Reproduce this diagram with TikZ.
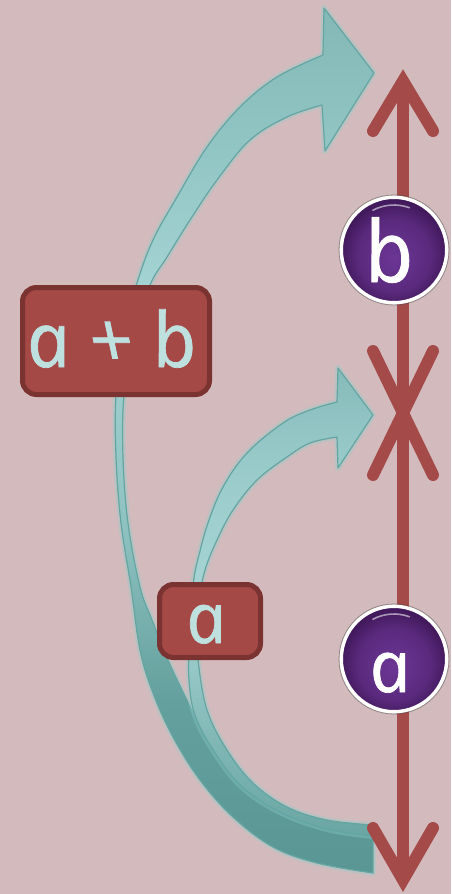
\documentclass[tikz,border=0pt]{standalone}
\usepackage{fontspec}
\newfontfamily\hand{Open Sans}[ItalicFeatures={FakeSlant=-0.21, FakeBold=1}]

\definecolor{bg}{HTML}{D3BBBD}
\definecolor{lineRed}{HTML}{A44A48}
\definecolor{boxRed}{HTML}{A54947}
\definecolor{boxEdge}{HTML}{7A3331}
\definecolor{boxText}{HTML}{BEE0DF}
\definecolor{tealEdge}{HTML}{62A5A2}
\definecolor{tealGlow}{HTML}{8FCFCB}
% ribbon colours, bottom to top
\definecolor{tA}{HTML}{5A9794}
\definecolor{tB}{HTML}{64A09D}
\definecolor{tC}{HTML}{8EC2C1}
\definecolor{tD}{HTML}{A6D4D4}
\definecolor{tE}{HTML}{93C7C6}
\definecolor{tF}{HTML}{83B8B7}
\definecolor{sA}{HTML}{6AA6A3}
\definecolor{sB}{HTML}{7DB5B3}
\definecolor{sC}{HTML}{A8D5D5}
\definecolor{sD}{HTML}{9ACBCB}
\definecolor{sE}{HTML}{86BBBA}
% ball colours
\definecolor{pLight}{HTML}{6C3695}
\definecolor{pMid}{HTML}{5A2A7E}
\definecolor{pDark}{HTML}{42195C}

\pgfdeclareverticalshading{bigribbon}{100bp}{color(0bp)=(tA); color(25bp)=(tA); color(35bp)=(tB); color(45bp)=(tC); color(58bp)=(tD); color(66bp)=(tE); color(75bp)=(tF); color(100bp)=(tF)}
\pgfdeclareverticalshading{smallribbon}{100bp}{color(0bp)=(sA); color(25bp)=(sA); color(34bp)=(sB); color(50bp)=(sC); color(64bp)=(sD); color(75bp)=(sE); color(100bp)=(sE)}
\pgfdeclareradialshading{ball}{\pgfpoint{0bp}{-4bp}}{color(0bp)=(pLight); color(17bp)=(pMid); color(25bp)=(pDark); color(50bp)=(pDark)}

\tikzset{
  labelbox/.style={draw=boxEdge, fill=boxRed, line width=5pt, rounded corners=14pt,
    inner sep=0pt, text=boxText, text depth=0pt},
  ballnode/.style={circle, shade, shading=ball, draw=white, line width=3.5pt,
    minimum size=105.5pt, inner sep=0pt, text=white, text depth=0pt},
  ballrim/.style={draw=black!70, line width=0.8pt, opacity=0.5},
  gloss/.style={draw=white, line width=1.6pt, opacity=0.55, line cap=round},
  redline/.style={draw=lineRed, line width=12pt},
  chevron/.style={redline, line cap=round, line join=miter},
  ribbon/.style={draw=tealEdge, line width=1.2pt, line join=round, shade},
  glow/.style={draw=tealGlow, line width=6pt, opacity=0.35, line join=round},
}

% outline of the long curved arrow (bottom right, round the left, up to the top)
\def\bigribbonpath{(323,55) -- (324,8) -- (374,73) -- (325,151) -- (322,105)
  -- plot[smooth, tension=0.6] coordinates {(322,105) (287,117) (250,140) (217,180) (190,220) (167,257) (150,285) (134,335) (124,395) (123,457) (128,523) (140,587) (152,620) (168,660) (187,700) (210,745) (240,785) (280,812) (327,829) (373,836)}
  -- (373,873)
  -- plot[smooth, tension=0.6] coordinates {(373,873) (317,863) (273,847) (233,817) (200,780) (173,737) (153,693) (140,650) (131,587) (121,523) (116,457) (116,395) (123,335) (137,283) (153,240) (177,197) (207,147) (240,107) (277,77) (323,55)}
  -- cycle}

% outline of the short curved arrow
\def\smallribbonpath{(337,402) -- (338,368) -- (373,415) -- (338,468) -- (337,437)
  -- plot[smooth, tension=0.6] coordinates {(337,437) (310,443) (287,457) (257,480) (233,510) (217,540) (205,570) (199,600) (197,630) (198,660) (207,710) (227,750) (253,783) (287,807) (327,820) (373,825)}
  -- (373,836)
  -- plot[smooth, tension=0.6] coordinates {(373,836) (327,829) (280,812) (240,785) (210,745) (194,712) (189,680) (189,650) (191,610) (194,578) (199,555) (208,523) (223,487) (247,453) (283,423) (310,410) (337,402)}
  -- cycle}

\begin{document}
\begin{tikzpicture}[x=1pt, y=-1pt]
  \useasboundingbox (0,0) rectangle (451,894);
  \fill[bg] (0,0) rectangle (451,894);

  % curved arrows
  \path[glow] \bigribbonpath;
  \path[ribbon, shading=bigribbon] \bigribbonpath;
  \path[glow] \smallribbonpath;
  \path[ribbon, shading=smallribbon] \smallribbonpath;

  % number line with its arrow heads
  \coordinate (topTip) at (403,81);
  \coordinate (botTip) at (403,880);
  \coordinate (meet) at (403,413);
  \coordinate (topL) at (373,131);
  \coordinate (topR) at (433,131);
  \coordinate (botL) at (373,828);
  \coordinate (botR) at (433,828);
  \coordinate (xUL) at (373,351);
  \coordinate (xUR) at (433,351);
  \coordinate (xLL) at (373,475);
  \coordinate (xLR) at (433,475);

  \draw[redline] (topTip) -- (botTip);
  \draw[chevron] (topL) -- (topTip) -- (topR);
  \draw[chevron] (botL) -- (botTip) -- (botR);
  \draw[chevron] (xUL) -- (meet) -- (xLR);
  \draw[chevron] (xUR) -- (meet) -- (xLL);

  % labelled balls on the line
  \node[ballnode, text height=64pt, font=\hand\itshape\fontsize{85pt}{85pt}\selectfont] (ballB) at (394,250) {b};
  \node[ballnode, text height=66pt, font=\hand\itshape\fontsize{72pt}{72pt}\selectfont] (ballA) at (394,659) {a};
  \draw[ballrim] (ballB.center) circle[radius=55pt];
  \draw[ballrim] (ballA.center) circle[radius=55pt];
  \draw[gloss] (ballB.center) ++(118:45pt) arc[start angle=118, end angle=70, radius=45pt];
  \draw[gloss] (ballA.center) ++(118:45pt) arc[start angle=118, end angle=70, radius=45pt];

  % labels of the curved arrows
  \node[labelbox, minimum width=187pt, minimum height=107pt, text height=52pt,
        font=\hand\itshape\fontsize{76pt}{76pt}\selectfont] (sum) at (116,341) {a + b};
  \node[labelbox, minimum width=101pt, minimum height=73pt, text height=44pt,
        font=\hand\itshape\fontsize{70pt}{70pt}\selectfont] (part) at (210,621) {a};
\end{tikzpicture}
\end{document}
